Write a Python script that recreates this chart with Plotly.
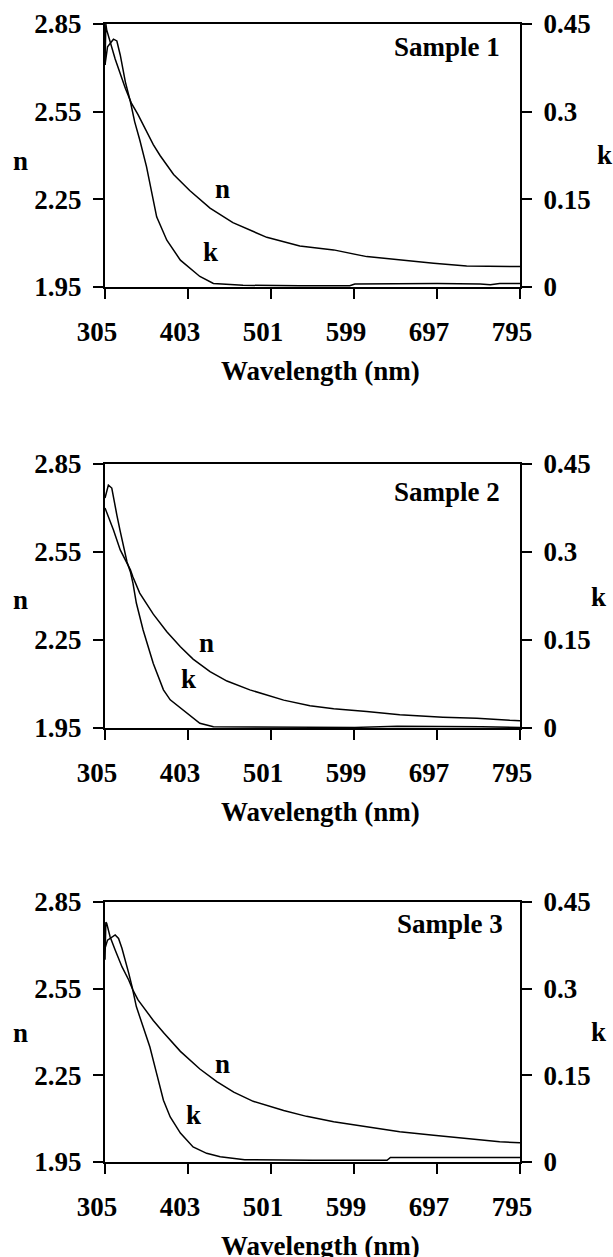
import plotly.graph_objects as go

# ---------------- data ----------------
x_ticks = [305, 403, 501, 599, 697, 795]
n_ticks = [1.95, 2.25, 2.55, 2.85]
k_ticks = [0, 0.15, 0.3, 0.45]
k_ticktext = ["0", "0.15", "0.3", "0.45"]
sample_names = ["Sample 1", "Sample 2", "Sample 3"]

wl_n1 = [305, 306, 307, 317, 329, 336, 344, 354, 362, 370, 386, 405, 429, 456, 496, 535, 575, 614, 653, 693, 732, 760, 795]
n1 = [2.71, 2.85, 2.83, 2.73, 2.63, 2.58, 2.54, 2.48, 2.437, 2.40, 2.335, 2.28, 2.22, 2.17, 2.12, 2.09, 2.077, 2.054, 2.042, 2.031, 2.022, 2.02, 2.02]
wl_k1 = [305, 308, 315, 319, 323, 329, 335, 340, 346, 354, 366, 378, 394, 417, 433, 468, 535, 594, 600, 697, 748, 760, 771, 795]
k1 = [0.38, 0.411, 0.424, 0.421, 0.397, 0.351, 0.317, 0.283, 0.252, 0.206, 0.120, 0.080, 0.046, 0.018, 0.006, 0.003, 0.002, 0.002, 0.005, 0.006, 0.005, 0.004, 0.006, 0.006]

wl_n2 = [305, 315, 323, 335, 338, 346, 362, 378, 394, 409, 429, 449, 476, 516, 547, 575, 614, 653, 704, 744, 783, 795]
n2 = [2.70, 2.625, 2.557, 2.489, 2.465, 2.41, 2.338, 2.278, 2.227, 2.185, 2.142, 2.110, 2.080, 2.045, 2.026, 2.016, 2.006, 1.995, 1.987, 1.983, 1.976, 1.975]
wl_k2 = [305, 309, 313, 315, 319, 323, 327, 331, 335, 338, 342, 350, 362, 374, 382, 402, 417, 433, 470, 600, 650, 700, 750, 795]
k2 = [0.392, 0.414, 0.409, 0.392, 0.363, 0.335, 0.306, 0.283, 0.266, 0.247, 0.213, 0.167, 0.110, 0.065, 0.048, 0.025, 0.008, 0.002, 0.002, 0.001, 0.003, 0.003, 0.002, 0.001]

wl_n3 = [305, 306, 307, 311, 317, 325, 333, 338, 344, 352, 362, 374, 394, 417, 437, 457, 480, 516, 543, 575, 614, 653, 693, 732, 771, 795]
n3 = [2.65, 2.78, 2.776, 2.730, 2.684, 2.626, 2.580, 2.545, 2.511, 2.478, 2.440, 2.398, 2.333, 2.272, 2.228, 2.192, 2.160, 2.128, 2.108, 2.089, 2.072, 2.055, 2.043, 2.032, 2.020, 2.017]
wl_k3 = [305, 308, 317, 321, 325, 329, 333, 337, 340, 342, 350, 358, 366, 374, 382, 394, 409, 425, 441, 470, 550, 638, 642, 795]
k3 = [0.37, 0.384, 0.393, 0.387, 0.370, 0.350, 0.327, 0.303, 0.280, 0.269, 0.234, 0.199, 0.153, 0.107, 0.078, 0.050, 0.026, 0.015, 0.009, 0.004, 0.003, 0.003, 0.008, 0.008]

series = [(wl_n1, n1, wl_k1, k1), (wl_n2, n2, wl_k2, k2), (wl_n3, n3, wl_k3, k3)]

# ---------------- layout geometry (pixels) ----------------
W, H = 613, 1257
left_px, right_px = 105, 520
panels_px = [(24, 287), (464, 728), (902, 1162)]
sample_px = [(502, 47), (502, 492), (505, 924)]
nlab_pos = [((444, 2.285), (430, 2.07)), ((425, 2.24), (404, 2.117)), ((444, 2.289), (409, 2.113))]
ntitle_px = [(20, 161), (20, 600), (20, 1033)]
ktitle_px = [(604, 155), (598, 597), (598, 1032)]

FONT = "Liberation Serif"
FS = 27
tfont = dict(family=FONT, size=FS, color="black", weight="bold")

fig = go.Figure()
layout = dict(
    width=W, height=H, margin=dict(l=0, r=0, t=0, b=0, autoexpand=False),
    paper_bgcolor="white", plot_bgcolor="white", showlegend=False,
)
annotations = []

def py(p):
    return 1 - p / H

def ann(text, x, y, xref="paper", yref="paper", xanchor="center"):
    return dict(text=text, xref=xref, yref=yref, x=x, y=y, xanchor=xanchor,
                yanchor="middle", showarrow=False, font=tfont)

xdom = [left_px / W, right_px / W]
for i, (top, bot) in enumerate(panels_px):
    xi = "" if i == 0 else str(i + 1)
    yl = 3 * i + 1
    yr = 3 * i + 2
    yt = 3 * i + 3
    yl_s = "" if yl == 1 else str(yl)
    ydom = [py(bot), py(top)]
    xname = "x" + xi
    ylname = "y" + yl_s
    yrname = "y" + str(yr)

    layout["xaxis" + xi] = dict(
        domain=xdom, anchor=ylname, range=[305, 795], tickvals=x_ticks,
        ticks="outside", ticklen=10, tickwidth=2, tickcolor="black",
        showline=True, linewidth=2, linecolor="black", mirror=True,
        showgrid=False, zeroline=False, tickfont=tfont, automargin=False,
        ticklabelstandoff=10, ticklabelshift=-8,
    )
    layout["yaxis" + yl_s] = dict(
        domain=ydom, anchor=xname, range=[1.95, 2.85], tickvals=n_ticks,
        tickformat=".2f", ticks="outside", ticklen=10, tickwidth=2, tickcolor="black",
        showline=True, linewidth=2, linecolor="black", automargin=False,
        showgrid=False, zeroline=False, tickfont=tfont, ticklabelstandoff=6,
    )
    layout["yaxis" + str(yr)] = dict(
        domain=ydom, anchor=xname, overlaying=ylname, side="right", range=[0, 0.45],
        tickvals=k_ticks, ticktext=k_ticktext, ticks="outside", ticklen=10,
        tickwidth=2, tickcolor="black", showline=True, linewidth=2, linecolor="black",
        showgrid=False, zeroline=False, tickfont=tfont, ticklabelstandoff=6,
        automargin=False,
    )
    layout["yaxis" + str(yt)] = dict(
        domain=ydom, anchor=xname, overlaying=ylname, side="right", range=[0, 0.45],
        tickvals=k_ticks[:3], ticks="inside", ticklen=8, tickwidth=2, tickcolor="black",
        showticklabels=False, showline=False, showgrid=False, zeroline=False,
        automargin=False,
    )

    wn, nv, wk, kv = series[i]
    fig.add_trace(go.Scatter(x=wn, y=nv, mode="lines", line=dict(color="black", width=1.5),
                             xaxis=xname, yaxis=ylname, name="n"))
    fig.add_trace(go.Scatter(x=wk, y=kv, mode="lines", line=dict(color="black", width=1.5),
                             xaxis=xname, yaxis=yrname, name="k"))

    sx, sy = sample_px[i]
    annotations.append(ann(sample_names[i], sx / W, py(sy), xanchor="right"))
    (nx, ny), (kx, ky) = nlab_pos[i]
    annotations.append(ann("n", nx, ny, xref=xname, yref=ylname))
    annotations.append(ann("k", kx, ky, xref=xname, yref=ylname))
    ax_, ay_ = ntitle_px[i]
    annotations.append(ann("n", ax_ / W, py(ay_)))
    bx_, by_ = ktitle_px[i]
    annotations.append(ann("k", bx_ / W, py(by_)))
    annotations.append(ann("Wavelength (nm)", 320 / W, py(bot + 84)))

layout["annotations"] = annotations
fig.update_layout(**layout)
fig.write_html("out.html")
